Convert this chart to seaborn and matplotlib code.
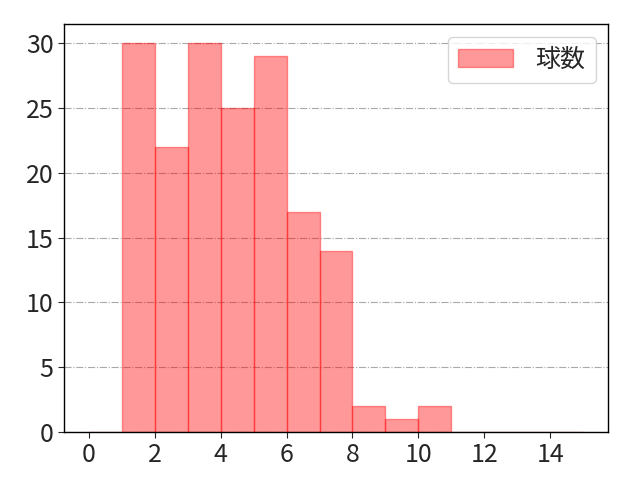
import numpy as np
import pandas as pd
import matplotlib
matplotlib.use("Agg")
import matplotlib.pyplot as plt
import seaborn as sns

# 各ビン(1球ごと)の度数
bin_edges = list(range(0, 16))
counts = [0, 30, 22, 30, 25, 29, 17, 14, 2, 1, 2, 0, 0, 0, 0]
label = "球数"

sns.set_style("white")
plt.rcParams['font.family'] = ['Noto Sans CJK JP', 'DejaVu Sans']

# ビンの左端を度数で重み付けしてヒストグラムにする
df = pd.DataFrame({"value": bin_edges[:-1], "count": counts})

fig, ax = plt.subplots(figsize=(6.4, 4.8), dpi=100)
sns.histplot(data=df, x="value", weights="count", bins=bin_edges,
             color="red", alpha=0.4, linewidth=1,
             label=label, ax=ax)
# 枠線も塗りと同じ透明度にする
for p in ax.patches:
    p.set_alpha(None)
    p.set_facecolor((1, 0, 0, 0.4))
    p.set_edgecolor((1, 0, 0, 0.4))

ax.set_xlabel("")
ax.set_ylabel("")
ax.set_xticks(range(0, 16, 2))
ax.tick_params(labelsize=18, direction="out", length=4, left=True, bottom=True)
ax.grid(axis="y", linestyle="-.", color="darkgray", linewidth=0.8)
ax.set_axisbelow(True)
for s in ax.spines.values():
    s.set_color("black")
    s.set_linewidth(1)
ax.legend(fontsize=18, loc="upper right", handlelength=2.2, handletextpad=0.9)

fig.subplots_adjust(left=0.1, right=0.95, top=0.95, bottom=0.1)
plt.savefig("out.png", dpi=100)
plt.close()
